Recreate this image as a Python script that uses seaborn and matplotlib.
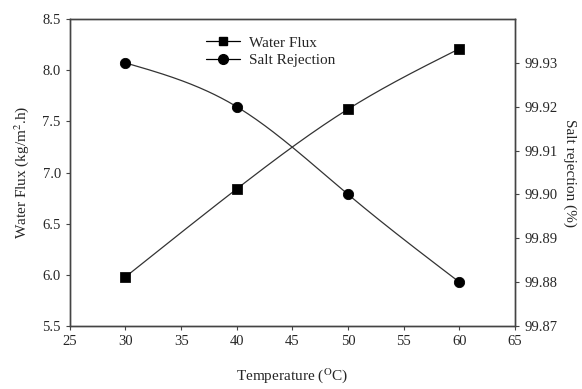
import numpy as np
import pandas as pd
import matplotlib
matplotlib.use("Agg")
import matplotlib.pyplot as plt
import seaborn as sns
from matplotlib.lines import Line2D

temperature = [30, 40, 50, 60]
water_flux = [5.98, 6.84, 7.62, 8.21]
salt_rejection = [99.93, 99.92, 99.90, 99.88]
x_ticks = [25, 30, 35, 40, 45, 50, 55, 60, 65]
left_ticks = [5.5, 6.0, 6.5, 7.0, 7.5, 8.0, 8.5]
right_ticks = [99.87, 99.88, 99.89, 99.90, 99.91, 99.92, 99.93]


def natural_spline(x, y, xs):
    x = np.asarray(x, float)
    y = np.asarray(y, float)
    n = len(x)
    h = np.diff(x)
    A = np.zeros((n, n))
    b = np.zeros(n)
    A[0, 0] = 1
    A[-1, -1] = 1
    for i in range(1, n - 1):
        A[i, i - 1] = h[i - 1]
        A[i, i] = 2 * (h[i - 1] + h[i])
        A[i, i + 1] = h[i]
        b[i] = 6 * ((y[i + 1] - y[i]) / h[i] - (y[i] - y[i - 1]) / h[i - 1])
    M = np.linalg.solve(A, b)
    out = np.empty_like(xs)
    for k, t in enumerate(xs):
        i = min(max(np.searchsorted(x, t) - 1, 0), n - 2)
        a = (x[i + 1] - t) / h[i]
        c = (t - x[i]) / h[i]
        out[k] = (a * y[i] + c * y[i + 1]
                  + ((a ** 3 - a) * M[i] + (c ** 3 - c) * M[i + 1]) * h[i] ** 2 / 6)
    return out


sns.set_style("ticks")
plt.rcParams['font.family'] = ['Liberation Serif', 'DejaVu Serif']
plt.rcParams['mathtext.fontset'] = 'stix'

fig = plt.figure(figsize=(5.82, 3.89), dpi=100)
ax = fig.add_axes([0.12, 0.162, 0.765, 0.789])
ax2 = ax.twinx()

df = pd.DataFrame({"T": temperature, "flux": water_flux, "salt": salt_rejection})

xs = np.linspace(min(temperature), max(temperature), 200)
ax.plot(xs, natural_spline(temperature, water_flux, xs), color='#333333', lw=0.9)
ax2.plot(xs, natural_spline(temperature, np.array(salt_rejection) - 99.9, xs) + 99.9,
         color='#333333', lw=0.9)

sns.scatterplot(data=df, x="T", y="flux", ax=ax, marker='s', s=45, color='black',
                edgecolor='black', zorder=5, legend=False)
sns.scatterplot(data=df, x="T", y="salt", ax=ax2, marker='o', s=55, color='black',
                edgecolor='black', zorder=5, legend=False)

ax.set_xlim(25, 65)
ax.set_ylim(5.5, 8.5)
ax.set_xticks(x_ticks)
ax.set_yticks(left_ticks)
ax.set_yticklabels([f"{v:.1f}" for v in left_ticks])
ax2.set_ylim(99.87, 99.94)
ax2.set_yticks(right_ticks)
ax2.set_yticklabels([f"{v:.2f}" for v in right_ticks])

for a in (ax, ax2):
    for s in a.spines.values():
        s.set_visible(True)
        s.set_color('#444444')
        s.set_linewidth(1.0)
    a.tick_params(labelsize=10.5, direction='out', length=3, width=0.8, color='#444444')

ax.set_xlabel("Temperature ($^{\\rm O}$C)", fontsize=11, labelpad=13)
ax.set_ylabel("Water Flux (kg/m$^2$.h)", fontsize=11, labelpad=8)
ax2.set_ylabel("Salt rejection (%)", fontsize=11, rotation=270, labelpad=14)
ax2.set_xlabel("")

handles = [Line2D([0], [0], color='black', lw=0.9, marker='s', markersize=6),
           Line2D([0], [0], color='black', lw=0.9, marker='o', markersize=7)]
ax.legend(handles, ["Water Flux", "Salt Rejection"], loc='upper left',
          bbox_to_anchor=(0.275, 0.99), frameon=False, fontsize=11,
          handlelength=2.2, labelspacing=0.25, handletextpad=0.6)

fig.savefig("out.png", dpi=100)
